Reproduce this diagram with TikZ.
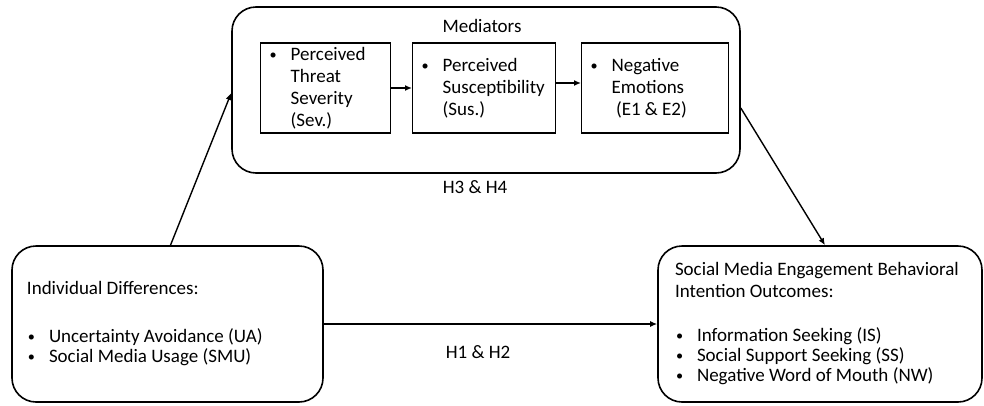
\documentclass[tikz,border=0pt]{standalone}
\usepackage{fontspec}
\usepackage{graphicx}
\setmainfont{Carlito}
\usetikzlibrary{arrows.meta,positioning}
\newcommand{\blt}{\makebox[22pt][l]{\hspace{1pt}\raisebox{1pt}{\scalebox{0.75}{\textbullet}}}}
\newcommand{\ind}{\hspace*{22pt}}

\begin{document}
\begin{tikzpicture}[x=1pt, y=-1pt, font=\fontsize{19}{20}\selectfont,
  outer/.style={draw, line width=1.6pt, rounded corners=24pt, align=flush left, inner xsep=15pt},
  inbox/.style={draw, line width=1.4pt, minimum height=90pt, align=flush left, anchor=west,
    inner xsep=8pt, font=\fontsize{19}{22}\selectfont},
  arr/.style={-{Latex[length=7pt,width=6pt]}, line width=1.4pt}]
\useasboundingbox (0,0) rectangle (984,405);

% Mediators
\node[outer, minimum width=508pt, minimum height=166pt] (med) at (486,90) {};
\node (medlbl) at (482,26) {Mediators};
\node[inbox, text width=114pt] (sev) at (260,88) {\blt Perceived\\\ind Threat\\\ind Severity\\\ind (Sev.)};
\node[inbox, text width=127pt] (sus) at (412,88) {\blt Perceived\\\ind Susceptibility\\\ind (Sus.)};
\node[inbox, text width=131pt] (emo) at (581,88) {\blt Negative\\\ind Emotions\\\ind\ (E1 \& E2)};

% Antecedents and outcomes
\node[outer, text width=281pt, minimum height=156pt] (indiv) at (167.5,324)
  {Individual Differences:\\[28pt]\blt Uncertainty Avoidance (UA)\\\blt Social Media Usage (SMU)};
\node[outer, text width=290pt, minimum height=156pt, inner xsep=17pt] (outc) at (820,324)
  {Social Media Engagement Behavioral\\[2pt]Intention Outcomes:\\[24pt]\blt Information Seeking (IS)\\\blt Social Support Seeking (SS)\\\blt Negative Word of Mouth (NW)};

% Paths
\draw[arr] ([xshift=3pt]indiv.north) -- ([yshift=-3pt]med.west);
\draw[arr] ([yshift=-18pt]med.east) -- ([xshift=5pt]outc.north);
\draw[arr] (indiv.east) -- (outc.west);
\draw[arr] (sev.east) -- (sus.west);
\draw[arr] ([yshift=5pt]sus.east) -- ([yshift=5pt]emo.west);

\node (h34) at (475,187) {H3 \& H4};
\node (h12) at (478,352) {H1 \& H2};
\end{tikzpicture}
\end{document}
